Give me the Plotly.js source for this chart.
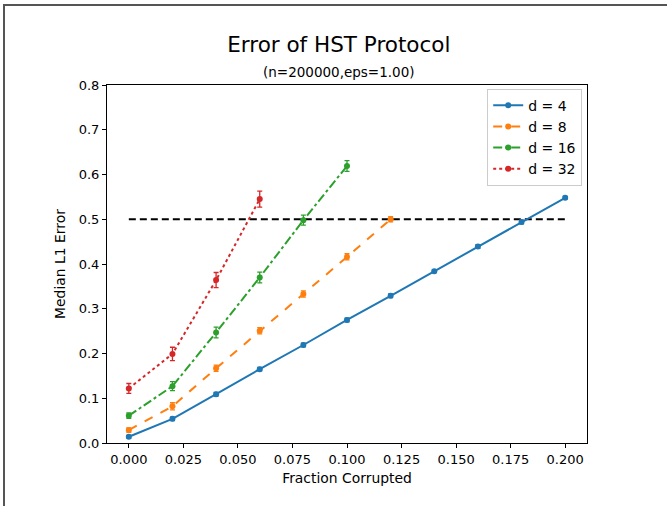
<!DOCTYPE html>
<html>
<head>
<meta charset="utf-8">
<script src="https://cdn.plot.ly/plotly-3.0.1.min.js"></script>
<style>
  html, body { margin: 0; padding: 0; background: #fff; }
  #wrap { position: relative; width: 667px; height: 506px; overflow: hidden; }
  #chart { position: absolute; left: 0; top: 0; width: 667px; height: 506px; }
  #frame { position: absolute; left: 3px; top: 4px; width: 700px; height: 600px;
           border-top: 2px solid #555; border-left: 2px solid #555; pointer-events: none; }
</style>
</head>
<body>
<div id="wrap">
  <div id="chart"></div>
  <div id="frame"></div>
</div>
<script>
// ---- data ----
const x_d4  = [0.00, 0.02, 0.04, 0.06, 0.08, 0.10, 0.12, 0.14, 0.16, 0.18, 0.20];
const y_d4  = [0.014, 0.054, 0.109, 0.165, 0.219, 0.275, 0.329, 0.384, 0.439, 0.494, 0.548];
const e_d4  = [0.003, 0.004, 0.004, 0.004, 0.004, 0.004, 0.004, 0.003, 0.004, 0.004, 0.003];

const x_d8  = [0.00, 0.02, 0.04, 0.06, 0.08, 0.10, 0.12];
const y_d8  = [0.029, 0.082, 0.167, 0.251, 0.333, 0.416, 0.500];
const e_d8  = [0.005, 0.008, 0.007, 0.007, 0.007, 0.007, 0.006];

const x_d16 = [0.00, 0.02, 0.04, 0.06, 0.08, 0.10];
const y_d16 = [0.061, 0.127, 0.247, 0.370, 0.498, 0.619];
const e_d16 = [0.006, 0.010, 0.012, 0.012, 0.011, 0.012];

const x_d32 = [0.00, 0.02, 0.04, 0.06];
const y_d32 = [0.122, 0.199, 0.364, 0.545];
const e_d32 = [0.011, 0.015, 0.017, 0.018];

const x_ref = [0.00, 0.20];
const y_ref = [0.5, 0.5];

const seriesNames = ['d = 4', 'd = 8', 'd = 16', 'd = 32'];
const colors = ['#1f77b4', '#ff7f0e', '#2ca02c', '#d62728'];
const dashes = ['solid', 'dash', 'dashdot', 'dot'];

const titleText = 'Error of HST Protocol';
const subtitleText = '(n=200000,eps=1.00)';
const xTitle = 'Fraction Corrupted';
const yTitle = 'Median L1 Error';

// ---- traces ----
const xs = [x_d4, x_d8, x_d16, x_d32];
const ys = [y_d4, y_d8, y_d16, y_d32];
const es = [e_d4, e_d8, e_d16, e_d32];

const traces = [{
  x: x_ref, y: y_ref, mode: 'lines', showlegend: false, hoverinfo: 'skip',
  line: { color: '#000', width: 2, dash: '7px,4px' }
}];
for (let i = 0; i < 4; i++) {
  traces.push({
    x: xs[i], y: ys[i], name: seriesNames[i], type: 'scatter', mode: 'lines+markers',
    line: { color: colors[i], width: 2, dash: dashes[i] },
    marker: { color: colors[i], size: 6 },
    error_y: { type: 'data', array: es[i], visible: true, color: colors[i], thickness: 1.3, width: 2.5 }
  });
}

const font = 'DejaVu Sans, sans-serif';
const layout = {
  width: 667, height: 506,
  margin: { l: 107, r: 80, t: 85, b: 63 },
  paper_bgcolor: 'rgba(0,0,0,0)', plot_bgcolor: '#fff',
  font: { family: font, size: 13, color: '#000' },
  title: { text: titleText, font: { family: font, size: 21.5, color: '#000' },
           xref: 'paper', x: 0.483, xanchor: 'center', yref: 'container', y: 0.912, yanchor: 'middle' },
  annotations: [{
    text: subtitleText, xref: 'paper', yref: 'paper', x: 0.483, y: 1.036,
    xanchor: 'center', yanchor: 'middle', showarrow: false,
    font: { family: font, size: 13.5, color: '#000' }
  }],
  xaxis: {
    range: [-0.01, 0.21], tickmode: 'linear', tick0: 0, dtick: 0.025, tickformat: '.3f',
    showgrid: false, zeroline: false, showline: true, linecolor: '#000', linewidth: 1, mirror: true,
    ticks: 'outside', ticklen: 4, tickcolor: '#000', tickfont: { size: 13 },
    title: { text: xTitle, font: { size: 13.9 }, standoff: 7 }
  },
  yaxis: {
    range: [0, 0.8], tickmode: 'linear', tick0: 0, dtick: 0.1, tickformat: '.1f',
    showgrid: false, zeroline: false, showline: true, linecolor: '#000', linewidth: 1, mirror: true,
    ticks: 'outside', ticklen: 4, tickcolor: '#000', tickfont: { size: 13 },
    title: { text: yTitle, font: { size: 13.9 }, standoff: 9 }
  },
  legend: {
    x: 0.99, y: 0.99, xanchor: 'right', yanchor: 'top',
    bgcolor: '#fff', bordercolor: '#ccc', borderwidth: 1,
    font: { family: font, size: 14 }, tracegroupgap: 0
  },
  showlegend: true
};

Plotly.newPlot('chart', traces, layout, { displayModeBar: false, staticPlot: true });
</script>
</body>
</html>
